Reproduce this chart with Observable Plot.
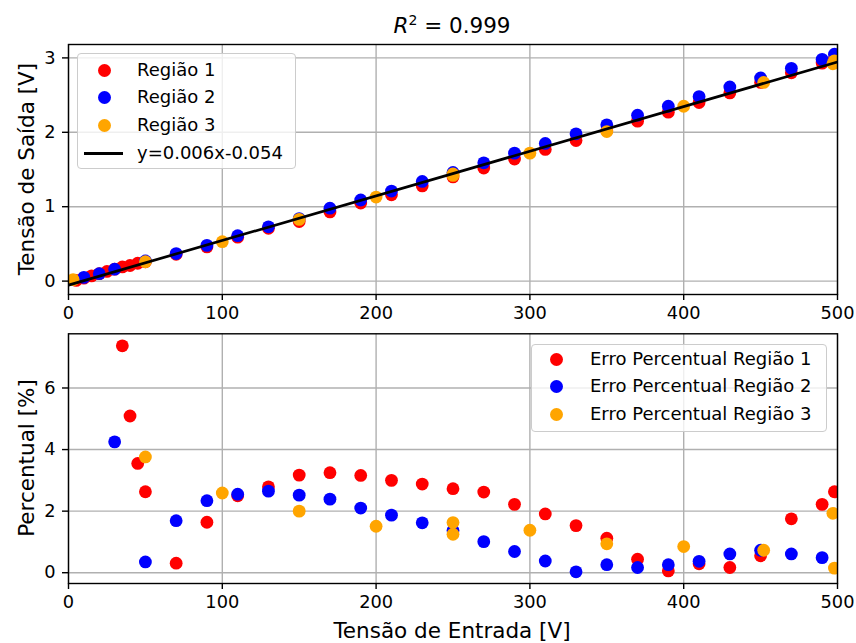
<!DOCTYPE html>
<html>
<head>
<meta charset="utf-8">
<script src="https://cdn.jsdelivr.net/npm/d3@7"></script>
<script src="https://cdn.jsdelivr.net/npm/@observablehq/plot@0.6"></script>
<style>
  html, body { margin: 0; padding: 0; background: white; }
  #fig { position: relative; width: 856px; height: 643px; font-family: "DejaVu Sans", sans-serif; color: black; overflow: hidden; }
  #fig svg { position: absolute; left: 0; background: transparent; }
  .lbl { position: absolute; font-size: 21.5px; white-space: nowrap; }
  .rot { transform: translate(-50%, -50%) rotate(-90deg); }
  .legend { position: absolute; background: rgba(255,255,255,0.8); border: 1px solid #cccccc; border-radius: 4px; box-sizing: border-box; }
  .row { position: absolute; font-size: 18px; white-space: nowrap; line-height: 1; }
  .mk { position: absolute; width: 13px; height: 13px; border-radius: 50%; }
</style>
</head>
<body>
<div id="fig"></div>
<script>
// ---- data: top panel (output voltage) ----
const xRed = [5,10,15,20,25,30,35,40,45,50,70,90,110,130,150,170,190,210,230,250,270,290,310,330,350,370,390,410,430,450,470,490,498];
const vRed = [0.01,0.04,0.07,0.10,0.13,0.16,0.19,0.21,0.24,0.26,0.36,0.46,0.59,0.71,0.80,0.93,1.05,1.16,1.28,1.40,1.52,1.64,1.77,1.89,2.02,2.15,2.27,2.40,2.53,2.67,2.80,2.93,2.99];
const xBlue = [10,20,30,50,70,90,110,130,150,170,190,210,230,250,270,290,310,330,350,370,390,410,430,450,470,490,498];
const vBlue = [0.05,0.10,0.16,0.27,0.37,0.48,0.61,0.73,0.84,0.98,1.09,1.21,1.34,1.46,1.59,1.72,1.85,1.98,2.10,2.23,2.35,2.48,2.61,2.73,2.86,2.98,3.05];
const xOrange = [3,50,100,150,200,250,250,300,350,400,452,497,498];
const vOrange = [0.02,0.26,0.53,0.83,1.13,1.42,1.44,1.72,2.01,2.35,2.67,2.92,2.96];
// fit line endpoints (y=0.006x-0.054)
const fitX = [0, 500];
const fitY = [-0.054, 2.946];
const fitLabel = "y=0.006x-0.054";

// ---- data: bottom panel (percent error) ----
const eRedX = [35,40,45,50,70,90,110,130,150,170,190,210,230,250,270,290,310,330,350,370,390,410,430,450,470,490,498];
const eRed = [7.37,5.09,3.55,2.63,0.31,1.64,2.50,2.79,3.17,3.25,3.16,3.00,2.88,2.73,2.62,2.22,1.91,1.53,1.12,0.44,0.06,0.29,0.17,0.55,1.75,2.22,2.63];
const eBlueX = [30,50,70,90,110,130,150,170,190,210,230,250,270,290,310,330,350,370,390,410,430,450,470,490];
const eBlue = [4.25,0.35,1.69,2.34,2.55,2.65,2.52,2.39,2.10,1.87,1.62,1.37,1.01,0.69,0.38,0.03,0.26,0.17,0.26,0.37,0.61,0.73,0.61,0.49];
const eOrangeX = [50,100,150,200,250,250,300,350,400,452,497,498];
const eOrange = [3.76,2.59,2.00,1.51,1.63,1.25,1.38,0.94,0.85,0.73,1.93,0.15];

const xTicks = [0,100,200,300,400,500];
const yTicksTop = [0,1,2,3];
const yTicksBot = [0,2,4,6];
const seriesNames = ["Região 1","Região 2","Região 3"];
const errNames = ["Erro Percentual Região 1","Erro Percentual Região 2","Erro Percentual Região 3"];
const colors = ["#ff0000","#0000ff","#ffa500"];
const titleText = "= 0.999";
const yLabelTop = "Tensão de Saída [V]";
const yLabelBot = "Percentual [%]";
const xLabel = "Tensão de Entrada [V]";

const zip = (xs, ys) => xs.map((x, i) => ({x, y: ys[i]}));
const topSeries = [zip(xRed, vRed), zip(xBlue, vBlue), zip(xOrange, vOrange)];
const botSeries = [zip(eRedX, eRed), zip(eBlueX, eBlue), zip(eOrangeX, eOrange)];
const fitData = zip(fitX, fitY);

const W = 856;
const common = {
  width: W,
  marginLeft: 68,
  marginRight: 19,
  style: {fontFamily: "DejaVu Sans, sans-serif", fontSize: "17.8px", color: "black", background: "transparent", overflow: "visible"},
};
const gridStyle = {stroke: "#b0b0b0", strokeOpacity: 1, strokeWidth: 1.4};

function panel(series, extra, yDomain, yTicks, height, mt, mb) {
  return Plot.plot({
    ...common,
    height, marginTop: mt, marginBottom: mb,
    x: {domain: [0, 500], label: null},
    y: {domain: yDomain, label: null},
    marks: [
      Plot.gridX(xTicks, gridStyle),
      Plot.gridY(yTicks, gridStyle),
      ...series.map((s, i) => Plot.dot(s, {x: "x", y: "y", r: 6.4, fill: colors[i], stroke: "none", clip: true})),
      ...extra,
      Plot.axisX(xTicks, {tickSize: 6, tickPadding: 6, tickFormat: d3.format("d"), strokeWidth: 1.4, label: null}),
      Plot.axisY(yTicks, {tickSize: 6, tickPadding: 7, tickFormat: d3.format("d"), strokeWidth: 1.4, label: null}),
      Plot.frame({stroke: "black", strokeWidth: 1.4})
    ]
  });
}

const fig = document.getElementById("fig");

const topPlot = panel(topSeries,
  [Plot.line(fitData, {x: "x", y: "y", stroke: "black", strokeWidth: 2.7, clip: true})],
  [-0.18, 3.18], yTicksTop, 330, 44, 36);
topPlot.style.top = "0px";
fig.appendChild(topPlot);

const botPlot = panel(botSeries, [], [-0.35, 7.76], yTicksBot, 313, 3.3, 60);
botPlot.style.top = "330px";
fig.appendChild(botPlot);

// Title
const t = document.createElement("div");
t.className = "lbl";
t.style.left = "452px"; t.style.top = "25px"; t.style.transform = "translate(-50%,-50%)";
t.innerHTML = '<i>R</i><sup style="font-size:14px;vertical-align:8px;line-height:0">2</sup> ' + titleText;
fig.appendChild(t);

// Axis labels
function addLabel(text, x, y, rot) {
  const d = document.createElement("div");
  d.className = "lbl" + (rot ? " rot" : "");
  d.textContent = text;
  d.style.left = x + "px"; d.style.top = y + "px";
  if (!rot) d.style.transform = "translate(-50%,-50%)";
  fig.appendChild(d);
}
addLabel(yLabelTop, 26, 169, true);
addLabel(yLabelBot, 26, 458, true);
addLabel(xLabel, 452, 630, false);

// Legends
function legend(box, rows) {
  const L = document.createElement("div");
  L.className = "legend";
  L.style.left = box.x + "px"; L.style.top = box.y + "px";
  L.style.width = box.w + "px"; L.style.height = box.h + "px";
  fig.appendChild(L);
  rows.forEach(r => {
    if (r.type === "dot") {
      const m = document.createElement("div");
      m.className = "mk"; m.style.background = r.color;
      m.style.left = (r.mx - 6.5) + "px"; m.style.top = (r.y - 6.5) + "px";
      fig.appendChild(m);
    } else {
      const m = document.createElement("div");
      m.style.position = "absolute"; m.style.background = "black";
      m.style.left = r.mx0 + "px"; m.style.width = (r.mx1 - r.mx0) + "px";
      m.style.top = (r.y - 1.35) + "px"; m.style.height = "2.7px";
      fig.appendChild(m);
    }
    const tx = document.createElement("div");
    tx.className = "row"; tx.textContent = r.text;
    tx.style.left = r.tx + "px"; tx.style.top = (r.y - 9.5) + "px";
    fig.appendChild(tx);
  });
}
legend({x: 77, y: 53, w: 219, h: 116}, [
  {type: "dot", color: colors[0], mx: 104, tx: 137, y: 70, text: seriesNames[0]},
  {type: "dot", color: colors[1], mx: 104, tx: 137, y: 97.7, text: seriesNames[1]},
  {type: "dot", color: colors[2], mx: 104, tx: 137, y: 125.5, text: seriesNames[2]},
  {type: "line", mx0: 84, mx1: 123, tx: 137, y: 153.3, text: fitLabel}
]);
legend({x: 531, y: 344, w: 296, h: 88}, [
  {type: "dot", color: colors[0], mx: 556, tx: 590, y: 359.3, text: errNames[0]},
  {type: "dot", color: colors[1], mx: 556, tx: 590, y: 386.7, text: errNames[1]},
  {type: "dot", color: colors[2], mx: 556, tx: 590, y: 414.3, text: errNames[2]}
]);
</script>
</body>
</html>
